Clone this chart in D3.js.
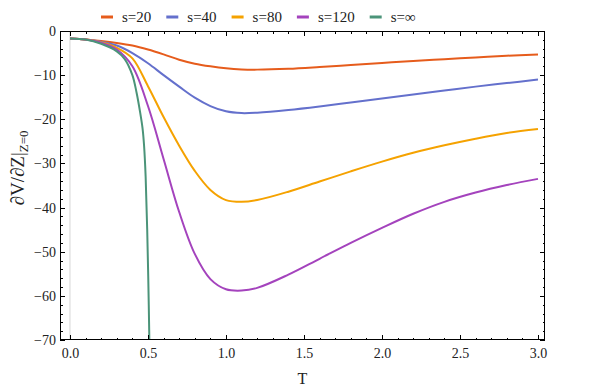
<!DOCTYPE html>
<html lang="en">
<head>
  <meta charset="UTF-8">
  <title>dV/dZ vs T</title>
  <script src="https://d3js.org/d3.v7.min.js"></script>
  <style>
    body { margin: 0; background: #fff; }
    .axis path { display: none; }
    .axis line { stroke: #000; stroke-width: 1; shape-rendering: crispEdges; }
    .curve { fill: none; stroke-width: 2; stroke-linejoin: round; }
  </style>
</head>
<body>
  <div id="chart"></div>
  <script>
    // Data
    const seriesNames = ["s=20", "s=40", "s=80", "s=120", "s=\u221e"];
    const colors = ["#e65c1c", "#6470cc", "#f5a200", "#a443bd", "#4b9479"];

    const tFinite = [0, 0.1, 0.2, 0.3, 0.4, 0.5, 0.6, 0.7, 0.8, 0.9, 1.0, 1.1, 1.2, 1.4, 1.6, 1.8, 2.0, 2.2, 2.4, 2.6, 2.8, 3.0];
    const s20  = [-1.7, -1.9, -2.25, -2.7, -3.3, -4.2, -5.3, -6.5, -7.4, -8.0, -8.45, -8.7, -8.75, -8.55, -8.15, -7.7, -7.25, -6.8, -6.4, -6.0, -5.6, -5.3];
    const s40  = [-1.7, -1.95, -2.45, -3.3, -5.0, -7.3, -10.0, -12.6, -15.1, -17.0, -18.2, -18.6, -18.5, -17.9, -17.1, -16.2, -15.3, -14.4, -13.5, -12.6, -11.8, -11.0];
    const s80  = [-1.7, -1.95, -2.55, -3.8, -6.2, -12.5, -19.5, -26.0, -31.7, -36.0, -38.3, -38.7, -38.3, -36.4, -34.1, -31.8, -29.6, -27.6, -25.9, -24.4, -23.1, -22.2];
    const s120 = [-1.7, -1.95, -2.65, -4.2, -8.0, -17.0, -29.0, -41.0, -50.5, -56.2, -58.5, -58.8, -58.2, -55.2, -51.6, -48.0, -44.6, -41.4, -38.7, -36.6, -34.9, -33.5];

    const tInf = [0, 0.1, 0.2, 0.3, 0.35, 0.4, 0.427, 0.45, 0.465, 0.475, 0.485, 0.495, 0.505, 0.512];
    const sInf = [-1.7, -1.95, -2.9, -4.6, -6.3, -10.0, -14.0, -18.5, -22.0, -26.0, -33.0, -45.0, -62.0, -78.0];

    const xMajor = [0, 0.5, 1.0, 1.5, 2.0, 2.5, 3.0];
    const yMajor = [0, -10, -20, -30, -40, -50, -60, -70];

    const width = 592, height = 388;
    const plotL = 60, plotR = 545, plotT = 31, plotB = 340;
    const serif = "'Liberation Serif', 'Times New Roman', Times, 'DejaVu Serif', serif";

    const series = [
      { t: tFinite, v: s20 },
      { t: tFinite, v: s40 },
      { t: tFinite, v: s80 },
      { t: tFinite, v: s120 },
      { t: tInf, v: sInf }
    ];

    const x = d3.scaleLinear().domain([-0.064, 3.045]).range([plotL, plotR]);
    const y = d3.scaleLinear().domain([-70, 0]).range([plotB, plotT]);

    const svg = d3.select("#chart").append("svg")
      .attr("width", width).attr("height", height)
      .attr("font-family", serif);

    svg.append("defs").append("clipPath").attr("id", "plot")
      .append("rect").attr("x", plotL).attr("y", plotT)
      .attr("width", plotR - plotL).attr("height", plotB - plotT);

    // light axis line at T = 0
    svg.append("line")
      .attr("x1", x(0)).attr("x2", x(0))
      .attr("y1", plotT).attr("y2", plotB)
      .attr("stroke", "#d6d6d6").attr("stroke-width", 1);

    // curves
    const line = d3.line()
      .x(d => x(d[0]))
      .y(d => y(d[1]))
      .curve(d3.curveCatmullRom.alpha(0.5));

    svg.append("g").attr("clip-path", "url(#plot)")
      .selectAll("path")
      .data(series)
      .enter()
      .append("path")
      .attr("class", "curve")
      .attr("stroke", (d, i) => colors[i])
      .attr("d", d => line(d.t.map((t, j) => [t, d.v[j]])));

    // minor tick values
    const xMinor = d3.range(0, 31).map(i => i / 10).filter(v => Math.round(v * 10) % 5 !== 0);
    const yMinor = d3.range(0, 36).map(i => -i * 2).filter(v => v % 10 !== 0);

    const fmtY = d => d === 0 ? "0" : "\u2212" + Math.abs(d);

    function addAxis(axis, tx, ty) {
      const g = svg.append("g").attr("class", "axis")
        .attr("transform", `translate(${tx},${ty})`)
        .call(axis);
      g.attr("font-family", serif).attr("font-size", 14);
      g.selectAll("text").attr("fill", "#222");
      return g;
    }

    // bottom
    addAxis(d3.axisBottom(x).tickValues(xMajor).tickSize(-5).tickPadding(8).tickFormat(d3.format(".1f")), 0, plotB);
    addAxis(d3.axisBottom(x).tickValues(xMinor).tickSize(-2.5).tickFormat(""), 0, plotB);
    // top
    addAxis(d3.axisTop(x).tickValues(xMajor).tickSize(-5).tickFormat(""), 0, plotT);
    addAxis(d3.axisTop(x).tickValues(xMinor).tickSize(-2.5).tickFormat(""), 0, plotT);
    // left
    addAxis(d3.axisLeft(y).tickValues(yMajor).tickSize(-5).tickPadding(4).tickFormat(fmtY), plotL, 0);
    addAxis(d3.axisLeft(y).tickValues(yMinor).tickSize(-2.5).tickFormat(""), plotL, 0);
    // right
    addAxis(d3.axisRight(y).tickValues(yMajor).tickSize(-5).tickFormat(""), plotR, 0);
    addAxis(d3.axisRight(y).tickValues(yMinor).tickSize(-2.5).tickFormat(""), plotR, 0);

    // frame
    svg.append("rect")
      .attr("x", plotL + 0.5).attr("y", plotT + 0.5)
      .attr("width", plotR - plotL - 1).attr("height", plotB - plotT - 1)
      .attr("fill", "none").attr("stroke", "#000").attr("stroke-width", 1);

    // x label
    svg.append("text")
      .attr("x", (plotL + plotR) / 2)
      .attr("y", 384)
      .attr("text-anchor", "middle")
      .attr("font-size", 16)
      .attr("fill", "#222")
      .text("T");

    // y label
    const yl = svg.append("text")
      .attr("transform", "translate(24,168) rotate(-90)")
      .attr("text-anchor", "middle")
      .attr("font-size", 19)
      .attr("fill", "#222");
    yl.append("tspan").text("\u2202V/\u2202Z|");
    yl.append("tspan").attr("dy", 4).attr("font-size", 13).text("Z=0");

    // legend
    const legend = svg.append("g").attr("transform", "translate(101,17)");
    let lx = 0;
    seriesNames.forEach((name, i) => {
      legend.append("line")
        .attr("x1", lx).attr("x2", lx + 12)
        .attr("y1", 0).attr("y2", 0)
        .attr("stroke", colors[i]).attr("stroke-width", 3);
      const t = legend.append("text")
        .attr("x", lx + 21).attr("y", 5)
        .attr("font-size", 15)
        .attr("fill", "#222")
        .text(name);
      lx += 21 + t.node().getComputedTextLength() + 15;
    });
  </script>
</body>
</html>
